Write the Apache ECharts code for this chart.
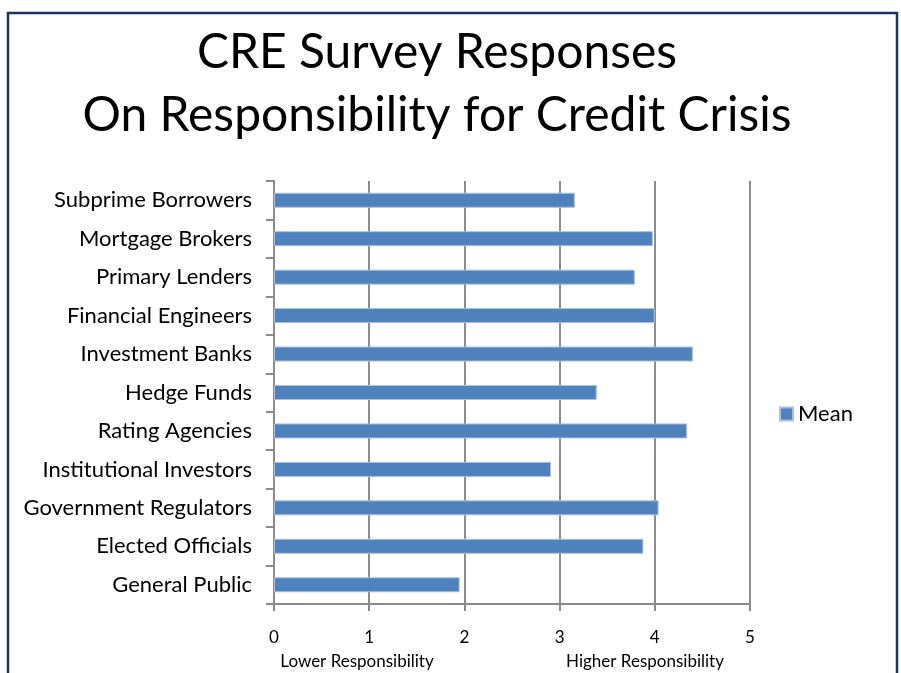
<!DOCTYPE html>
<html>
<head>
<meta charset="utf-8">
<script src="https://cdn.jsdelivr.net/npm/echarts@6/dist/echarts.min.js"></script>
<style>
  html, body { margin: 0; padding: 0; background: #fff; }
  #chart { width: 901px; height: 673px; }
</style>
</head>
<body>
<div id="chart"></div>
<script>
const categories = [
  'Subprime Borrowers', 'Mortgage Brokers', 'Primary Lenders', 'Financial Engineers',
  'Investment Banks', 'Hedge Funds', 'Rating Agencies', 'Institutional Investors',
  'Government Regulators', 'Elected Officials', 'General Public'
];
const meanValues = [3.16, 3.98, 3.79, 4.0, 4.4, 3.39, 4.34, 2.91, 4.04, 3.88, 1.95];
const valueTicks = [0, 1, 2, 3, 4, 5];
const titleLines = ['CRE Survey Responses', 'On Responsibility for Credit Crisis'];

const FONT = 'Lato, "Open Sans", sans-serif';
const GRAY = '#8c8c8c';

const chart = echarts.init(document.getElementById('chart'), null, { renderer: 'canvas' });

// title lines are centred a bit left of the page centre, as in the slide
const titleText = titleLines.map((line, i) => ({
  type: 'text',
  x: 437,
  y: 53 + i * 63,
  style: { text: line, font: '48px ' + FONT, fill: '#000', align: 'center', verticalAlign: 'middle' }
}));

chart.setOption({
  animation: false,
  backgroundColor: '#fff',
  legend: {
    data: ['Mean'],
    left: 779,
    top: 403,
    padding: 0,
    itemWidth: 13,
    itemHeight: 13,
    itemGap: 6,
    icon: 'rect',
    textStyle: { fontFamily: FONT, fontSize: 22, color: '#000' }
  },
  grid: { left: 274, right: 151, top: 181, bottom: 69 },
  xAxis: {
    type: 'value',
    min: valueTicks[0],
    max: valueTicks[valueTicks.length - 1],
    interval: 1,
    axisLine: { show: true, lineStyle: { color: GRAY, width: 2 } },
    axisTick: { show: true, length: 7, lineStyle: { color: GRAY, width: 2 } },
    splitLine: { show: true, lineStyle: { color: GRAY, width: 2 } },
    axisLabel: { fontFamily: FONT, fontSize: 17, color: '#000', margin: 25 }
  },
  yAxis: {
    type: 'category',
    data: categories,
    inverse: true,
    axisLine: { show: true, lineStyle: { color: GRAY, width: 2 } },
    axisTick: { show: true, length: 8, lineStyle: { color: GRAY, width: 2 } },
    axisLabel: { fontFamily: FONT, fontSize: 22, color: '#000', margin: 22 }
  },
  series: [{
    name: 'Mean',
    type: 'bar',
    data: meanValues,
    barWidth: 15,
    itemStyle: { color: '#4F81BD', borderColor: '#A9C1E0', borderWidth: 1 }
  }],
  graphic: [
    {
      type: 'rect',
      shape: { x: 8, y: 13, width: 889, height: 700 },
      style: { fill: 'none', stroke: '#17375E', lineWidth: 2.5 },
      silent: true
    },
    ...titleText,
    {
      type: 'text',
      x: 357, y: 662,
      style: { text: 'Lower Responsibility', font: '17px ' + FONT, fill: '#000', align: 'center', verticalAlign: 'middle' }
    },
    {
      type: 'text',
      x: 645, y: 662,
      style: { text: 'Higher Responsibility', font: '17px ' + FONT, fill: '#000', align: 'center', verticalAlign: 'middle' }
    }
  ]
});
</script>
</body>
</html>
